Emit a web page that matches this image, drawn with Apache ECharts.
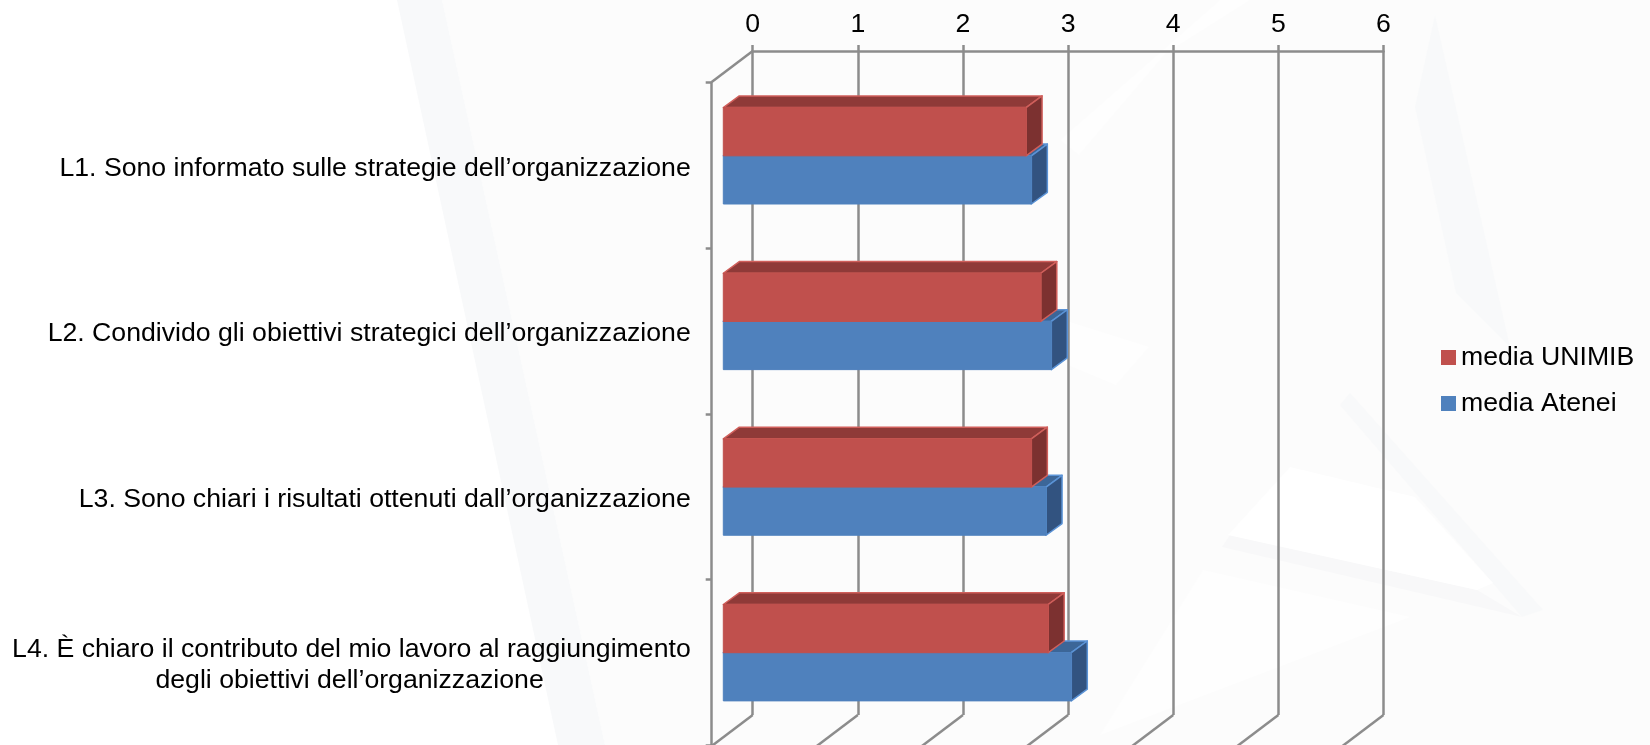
<!DOCTYPE html>
<html><head><meta charset="utf-8">
<style>html,body{margin:0;padding:0;background:#fff}#c{width:1650px;height:745px}</style>
<script src="https://cdn.jsdelivr.net/npm/echarts@6/dist/echarts.min.js"></script>
</head><body><div id="c"></div>
<script>
const categories = [
  "L1. Sono informato sulle strategie dell’organizzazione",
  "L2. Condivido gli obiettivi strategici dell’organizzazione",
  "L3. Sono chiari i risultati ottenuti dall’organizzazione",
  "L4. È chiaro il contributo del mio lavoro al raggiungimento\ndegli obiettivi dell’organizzazione"
];
const mediaUnimib = [2.88, 3.02, 2.93, 3.09];
const mediaAtenei = [2.93, 3.12, 3.07, 3.31];
const valueTicks = [0, 1, 2, 3, 4, 5, 6];

const FONT = '"Liberation Sans", Arial, sans-serif';
const FS = 26.67;
const GRAY = '#8c8c8c';
const LW = 2.5;
// 3D projection (front plane -> back wall)
const wallDX = 41, wallDY = 31;
const barInsetX = 11.6, barInsetY = -9.5, barDepthX = 16, barDepthY = 11.7, barThick = 48.2;

function barRenderer(slot, cols) {
  return function (params, api) {
    const p = api.coord([api.value(0), api.value(1)]);
    const z = api.coord([0, api.value(1)]);
    const x0 = z[0] + barInsetX, x1 = p[0] + barInsetX;
    const yT = p[1] + barInsetY + (slot === 0 ? -barThick : 0), yB = yT + barThick;
    const edge = {stroke: cols.edge, lineWidth: 1.5, lineJoin: 'round'};
    return {type: 'group', children: [
      {type: 'polygon', shape: {points: [[x0, yT], [x0 + barDepthX, yT - barDepthY], [x1 + barDepthX, yT - barDepthY], [x1, yT]]},
       style: Object.assign({fill: cols.top}, edge)},
      {type: 'polygon', shape: {points: [[x1, yT], [x1 + barDepthX, yT - barDepthY], [x1 + barDepthX, yB - barDepthY], [x1, yB]]},
       style: Object.assign({fill: cols.side}, edge)},
      {type: 'rect', shape: {x: x0, y: yT, width: x1 - x0, height: barThick},
       style: {fill: cols.front, stroke: cols.front, lineWidth: 1}}
    ]};
  };
}
const tuples = arr => arr.map((v, i) => [v, i]);

const chart = echarts.init(document.getElementById('c'), null, {renderer: 'canvas'});
const bgPoly = (pts, fill, z) => ({type: 'polygon', silent: true, z: z || -10, shape: {points: pts}, style: {fill}});
chart.setOption({
  animation: false,
  backgroundColor: '#ffffff',
  graphic: [
    // faint watermark behind the chart
    bgPoly([[442,0],[1650,0],[1650,745],[605,745]], '#fcfcfc', -12),
    bgPoly([[397,0],[442,0],[605,745],[558,745]], '#f8f9fa', -11),
    bgPoly([[1435,15],[1415,107],[1456,293],[1510,347]], '#f8f9fa'),
    bgPoly([[1350,393],[1543,610],[1522,617],[1419,497],[1340,405]], '#f8f9fa'),
    bgPoly([[1230,535],[1477,590],[1522,617],[1222,547]], '#f8f8f9'),
    bgPoly([[1079,155],[1166,53],[1250,0],[1220,0],[1060,140]], '#fefefe'),
    bgPoly([[1290,467],[1415,497],[1493,583],[1477,590],[1228,535]], '#ffffff'),
    bgPoly([[1203,570],[1410,617],[1100,735]], '#fefefe'),
    bgPoly([[1116,385],[1149,347],[1000,300],[960,320]], '#fefefe')
  ],
  grid: [
    {left: 752.7, width: 630.8, top: 51, height: 664},
    {left: 711.7, width: 630.8, top: 82.5, height: 663}
  ],
  xAxis: [
    {type: 'value', gridIndex: 0, position: 'top', min: 0, max: 6, interval: 1,
     axisLine: {show: true, onZero: false, lineStyle: {color: GRAY, width: LW}},
     axisTick: {show: true, length: 6, lineStyle: {color: GRAY, width: LW}},
     splitLine: {show: true, lineStyle: {color: GRAY, width: LW}},
     axisLabel: {color: '#000', fontFamily: FONT, fontSize: FS, margin: 13}},
    {type: 'value', gridIndex: 1, min: 0, max: 6, interval: 1, show: false}
  ],
  yAxis: [
    {type: 'category', gridIndex: 0, data: categories, inverse: true, show: false},
    {type: 'category', gridIndex: 1, data: categories, inverse: true, position: 'left',
     axisLine: {show: true, onZero: false, lineStyle: {color: GRAY, width: LW}},
     axisTick: {show: true, length: 6, lineStyle: {color: GRAY, width: LW}},
     splitLine: {show: false},
     axisLabel: {color: '#000', fontFamily: FONT, fontSize: FS, margin: 21, lineHeight: 31,
       padding: [6, 0, 0, 0], align: 'right', interval: 0,
       formatter: function (v) {
         const parts = v.split('\n');
         return parts.length > 1 ? '{a|' + parts[0] + '}\n{b|' + parts[1] + '}' : v;
       },
       rich: {
         a: {fontFamily: FONT, fontSize: FS, lineHeight: 31, color: '#000'},
         b: {fontFamily: FONT, fontSize: FS, lineHeight: 31, color: '#000', padding: [0, 147, 0, 0]}
       }}}
  ],
  legend: {
    left: 1441, top: 344, padding: 0, orient: 'vertical', icon: 'rect', itemWidth: 15, itemHeight: 15, itemGap: 19,
    data: ['media UNIMIB', 'media Atenei'], selectedMode: false,
    textStyle: {color: '#000', fontFamily: FONT, fontSize: FS}
  },
  series: [
    // floor edges and ceiling corner of the 3D frame
    {type: 'custom', name: 'walls', xAxisIndex: 0, yAxisIndex: 0, silent: true, z: 1, clip: false,
     data: valueTicks.map(v => [v, 3]), encode: {x: 0, y: 1},
     renderItem: function (params, api) {
       const v = api.value(0);
       const b = api.coord([v, 3]);
       const bandH = api.size([0, 1])[1];
       const bx = b[0], by = b[1] + bandH / 2;
       const kids = [{type: 'line', shape: {x1: bx, y1: by, x2: bx - wallDX, y2: by + wallDY},
         style: {stroke: GRAY, lineWidth: LW}}];
       if (v === 0) {
         const t = by - 4 * bandH;
         kids.push({type: 'line', shape: {x1: bx, y1: t, x2: bx - wallDX, y2: t + wallDY},
           style: {stroke: GRAY, lineWidth: LW}});
       }
       return {type: 'group', children: kids};
     }},
    {type: 'custom', name: 'media Atenei', xAxisIndex: 1, yAxisIndex: 1, z: 3, clip: false,
     itemStyle: {color: '#4F81BD'}, data: tuples(mediaAtenei), encode: {x: 0, y: 1},
     renderItem: barRenderer(1, {front: '#4F81BD', top: '#3C6698', side: '#325380', edge: '#5B93D6'})},
    {type: 'custom', name: 'media UNIMIB', xAxisIndex: 1, yAxisIndex: 1, z: 4, clip: false,
     itemStyle: {color: '#C0504D'}, data: tuples(mediaUnimib), encode: {x: 0, y: 1},
     renderItem: barRenderer(0, {front: '#C0504D', top: '#8F3A38', side: '#7C3130', edge: '#D05F5B'})}
  ]
});
</script></body></html>
